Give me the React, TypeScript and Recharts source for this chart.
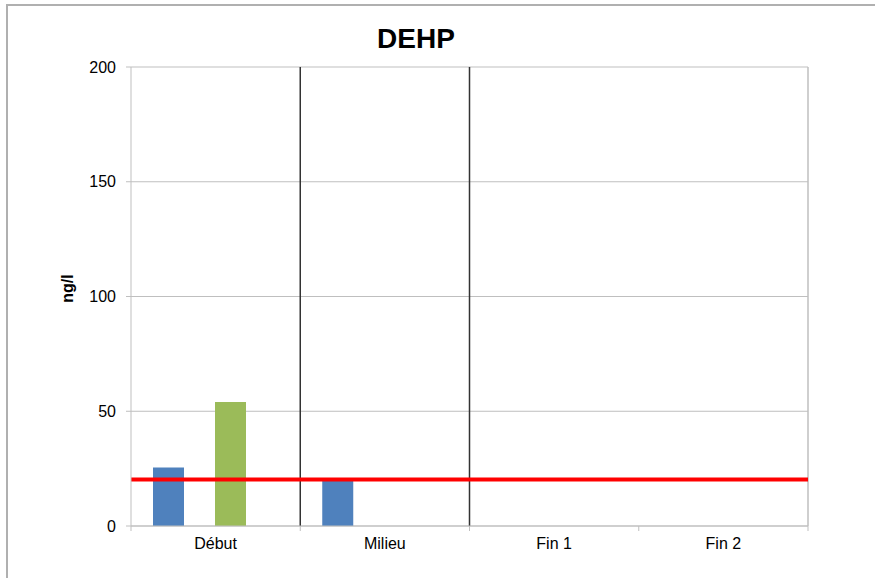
import React from 'react';
import { Bar, BarChart, CartesianGrid, ReferenceLine, XAxis, YAxis } from 'recharts';

const categories = ['Début', 'Milieu', 'Fin 1', 'Fin 2'];
const serie1 = [25.5, 20, null, null];
const serie2 = [null, null, null, null];
const serie3 = [54, null, null, null];
const serie4 = [null, null, null, null];
const yTicks = [0, 50, 100, 150, 200];
const separators = ['Milieu', 'Fin 1'];
const limitValue = 20.25;

const data = categories.map((name, i) => ({
  name,
  s1: serie1[i],
  s2: serie2[i],
  s3: serie3[i],
  s4: serie4[i],
}));

const gridColor = '#bfbfbf';
const font = '"Liberation Sans", Arial, sans-serif';

// category label plus tick marks on the band boundaries, like Excel
const CategoryTick = (props: any) => {
  const { x, y, payload, index, visibleTicksCount } = props;
  const half = payload?.offset ?? 0;
  const isLast = index === (visibleTicksCount ?? categories.length) - 1;
  const axisY = y - 12;
  return (
    <g>
      <line x1={x - half} x2={x - half} y1={axisY} y2={axisY + 5} stroke={gridColor} />
      {isLast && <line x1={x + half} x2={x + half} y1={axisY} y2={axisY + 5} stroke={gridColor} />}
      <text x={x} y={y} dy="0.71em" textAnchor="middle" fill="#000" fontSize={16}>
        {payload.value}
      </text>
    </g>
  );
};

export default function App() {
  return (
    <div
      style={{
        position: 'absolute',
        left: 0,
        top: 0,
        width: 875,
        height: 578,
        background: '#fff',
        fontFamily: font,
      }}
    >
      <div
        style={{
          position: 'absolute',
          left: 6,
          top: 4,
          right: 0,
          bottom: 0,
          borderTop: '2px solid #b0b0b0',
          borderLeft: '2px solid #b0b0b0',
        }}
      />
      <div
        style={{
          position: 'absolute',
          left: 416,
          top: 22,
          transform: 'translateX(-50%)',
          fontSize: 28,
          fontWeight: 'bold',
          color: '#000',
          lineHeight: '34px',
        }}
      >
        DEHP
      </div>
      <div style={{ position: 'absolute', left: 0, top: 0 }}>
        <BarChart
          width={875}
          height={578}
          data={data}
          margin={{ top: 67, right: 67, bottom: 0, left: 0 }}
          barCategoryGap="13%"
          barGap={0}
        >
          <CartesianGrid vertical={false} stroke={gridColor} strokeWidth={1} />
          <XAxis
            dataKey="name"
            height={52}
            stroke={gridColor}
            tickLine={false}
            tickSize={0}
            tickMargin={12}
            interval={0}
            tick={CategoryTick}
          />
          <YAxis
            width={131}
            domain={[0, 200]}
            ticks={yTicks}
            stroke={gridColor}
            tickSize={5}
            tickMargin={10}
            tick={{ fill: '#000', fontSize: 16 }}
            label={{
              value: 'ng/l',
              angle: -90,
              position: 'center',
              dx: 2,
              dy: -8,
              style: { fontWeight: 'bold', fontSize: 16, fill: '#000' },
            }}
          />
          <Bar dataKey="s1" fill="#4f81bd" isAnimationActive={false} />
          <Bar dataKey="s2" fill="#c0504d" isAnimationActive={false} />
          <Bar dataKey="s3" fill="#9bbb59" isAnimationActive={false} />
          <Bar dataKey="s4" fill="#8064a2" isAnimationActive={false} />
          <ReferenceLine x="Fin 2" position="end" stroke={gridColor} strokeWidth={1.5} />
          {separators.map((s) => (
            <ReferenceLine key={s} x={s} position="start" stroke="#333" strokeWidth={1.5} />
          ))}
          <ReferenceLine y={limitValue} stroke="#ff0000" strokeWidth={4} />
        </BarChart>
      </div>
    </div>
  );
}
